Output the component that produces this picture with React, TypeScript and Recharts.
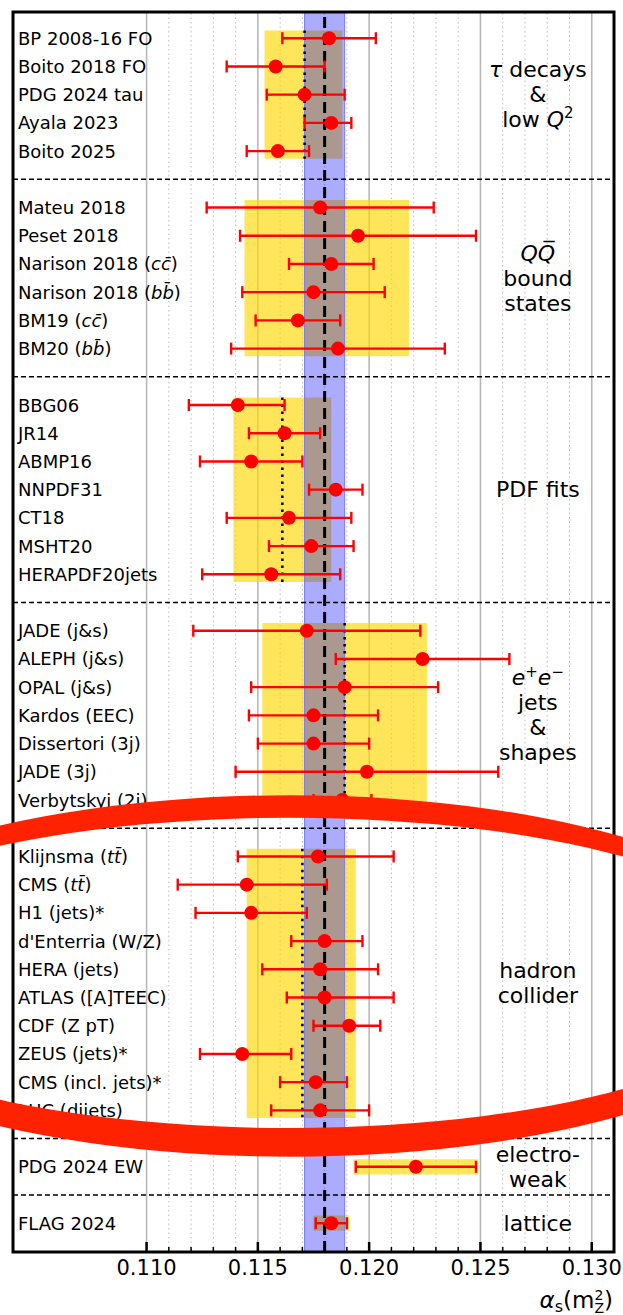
import React from 'react';
import { ScatterChart, Scatter, XAxis, YAxis, ErrorBar, ReferenceLine, ReferenceArea, Label } from 'recharts';

// ---- data ----
const rowLabels = [
  'BP 2008-16 FO', 'Boito 2018 FO', 'PDG 2024 tau', 'Ayala 2023', 'Boito 2025',
  'Mateu 2018', 'Peset 2018', 'Narison 2018 ($cc\u0304$)', 'Narison 2018 ($bb\u0304$)', 'BM19 ($cc\u0304$)', 'BM20 ($bb\u0304$)',
  'BBG06', 'JR14', 'ABMP16', 'NNPDF31', 'CT18', 'MSHT20', 'HERAPDF20jets',
  'JADE (j&s)', 'ALEPH (j&s)', 'OPAL (j&s)', 'Kardos (EEC)', 'Dissertori (3j)', 'JADE (3j)', 'Verbytskyi (2j)',
  'Klijnsma ($tt\u0304$)', 'CMS ($tt\u0304$)', 'H1 (jets)*', "d'Enterria (W/Z)", 'HERA (jets)', 'ATLAS ([A]TEEC)', 'CDF (Z pT)', 'ZEUS (jets)*', 'CMS (incl. jets)*', 'LHC (dijets)',
  'PDG 2024 EW',
  'FLAG 2024',
];
const rowPositions = [
  0, 1, 2, 3, 4,
  6, 7, 8, 9, 10, 11,
  13, 14, 15, 16, 17, 18, 19,
  21, 22, 23, 24, 25, 26, 27,
  29, 30, 31, 32, 33, 34, 35, 36, 37, 38,
  40,
  42,
];
const centralValues = [
  0.1182, 0.1158, 0.1171, 0.1183, 0.1159,
  0.1178, 0.1195, 0.1183, 0.1175, 0.1168, 0.1186,
  0.1141, 0.1162, 0.1147, 0.1185, 0.1164, 0.1174, 0.1156,
  0.1172, 0.1224, 0.1189, 0.1175, 0.1175, 0.1199, 0.1188,
  0.1177, 0.1145, 0.1147, 0.1180, 0.1178, 0.1180, 0.1191, 0.1143, 0.1176, 0.1178,
  0.1221,
  0.1183,
];
const lowerBounds = [
  0.1161, 0.1136, 0.1154, 0.1171, 0.1145,
  0.1127, 0.1142, 0.1164, 0.1143, 0.1149, 0.1138,
  0.1119, 0.1146, 0.1124, 0.1173, 0.1136, 0.1155, 0.1125,
  0.1121, 0.1185, 0.1147, 0.1146, 0.1150, 0.1140, 0.1175,
  0.1141, 0.1114, 0.1122, 0.1165, 0.1152, 0.1163, 0.1175, 0.1124, 0.1160, 0.1156,
  0.1194,
  0.1176,
];
const upperBounds = [
  0.1203, 0.1180, 0.1189, 0.1192, 0.1173,
  0.1229, 0.1248, 0.1202, 0.1207, 0.1187, 0.1234,
  0.1162, 0.1178, 0.1170, 0.1197, 0.1192, 0.1193, 0.1187,
  0.1223, 0.1263, 0.1231, 0.1204, 0.1200, 0.1258, 0.1201,
  0.1211, 0.1181, 0.1172, 0.1197, 0.1204, 0.1211, 0.1205, 0.1165, 0.1190, 0.1200,
  0.1248,
  0.1190,
];

const groupTitles = [
  ['$\u03c4$ decays', '&', 'low $Q$^2'],
  ['$QQ\u0305$', 'bound', 'states'],
  ['PDF fits'],
  ['$e$^+$e$^\u2212', 'jets', '&', 'shapes'],
  ['hadron', 'collider'],
  ['electro-', 'weak'],
  ['lattice'],
];
const groupFirstRow = [0, 6, 13, 21, 29, 40, 42];
const groupLastRow = [4, 11, 19, 27, 38, 40, 42];
const groupBoxLow = [0.1153, 0.1144, 0.1139, 0.1152, 0.1145, 0.1193, 0.1175];
const groupBoxHigh = [0.1188, 0.1218, 0.1183, 0.1226, 0.1194, 0.1249, 0.1191];
const groupAverages = [0.1171, null, 0.1161, 0.1189, 0.1170, null, null];
const separatorPositions = [5, 12, 20, 28, 39, 41];

const worldAverage = 0.118;
const worldAverageLow = 0.1171;
const worldAverageHigh = 0.1189;

const majorTicks = [0.11, 0.115, 0.12, 0.125, 0.13];
const majorTickLabels = ['0.110', '0.115', '0.120', '0.125', '0.130'];
const minorTicks = [
  0.111, 0.112, 0.113, 0.114, 0.116, 0.117, 0.118, 0.119,
  0.121, 0.122, 0.123, 0.124, 0.126, 0.127, 0.128, 0.129,
];

const X_DOMAIN: [number, number] = [0.104, 0.131];
const Y_DOMAIN: [number, number] = [-0.93, 43.02];
const GROUP_LABEL_X = 0.12758;
const HALF_BOX = 0.27;

const FONT = 'DejaVu Sans';

// ---- helpers ----
function rich(s: string, fs: number) {
  const out: React.ReactNode[] = [];
  let italic = false;
  let buf = '';
  let pendingDy = 0;
  let key = 0;
  const flush = () => {
    if (buf) {
      out.push(
        <tspan key={key++} fontStyle={italic ? 'italic' : 'normal'} dy={pendingDy || undefined}>{buf}</tspan>
      );
      pendingDy = 0;
      buf = '';
    }
  };
  for (let i = 0; i < s.length; i++) {
    const c = s[i];
    if (c === '$') { flush(); italic = !italic; continue; }
    if (c === '^' || c === '_') {
      flush();
      const ch = s[i + 1];
      i++;
      const d = c === '^' ? -0.4 * fs : 0.25 * fs;
      out.push(
        <tspan key={key++} fontSize={fs * 0.68} dy={d + pendingDy} fontStyle="normal">{ch}</tspan>
      );
      pendingDy = -d;
      continue;
    }
    buf += c;
  }
  flush();
  return out;
}

const scatterData = centralValues.map((v, i) => ({
  x: v,
  y: rowPositions[i],
  err: [v - lowerBounds[i], upperBounds[i] - v],
}));

const rowLabelData = rowLabels.map((label, i) => ({
  x: X_DOMAIN[0],
  y: rowPositions[i],
  label,
}));

const groupLabelData = groupTitles.map((lines, i) => ({
  x: GROUP_LABEL_X,
  y: (groupFirstRow[i] + groupLastRow[i]) / 2,
  lines,
}));

const XTick = (props: any) => {
  const { x, y, payload } = props;
  const v = payload.value;
  const mi = majorTicks.findIndex((m) => Math.abs(m - v) < 1e-9);
  if (mi >= 0) {
    return (
      <g>
        <line x1={x} x2={x} y1={y} y2={y - 10} stroke="#000" strokeWidth={2.5} />
        <text x={x} y={y + 23} textAnchor="middle" fontSize={21} fontFamily={FONT} fill="#000">
          {majorTickLabels[mi]}
        </text>
      </g>
    );
  }
  return <line x1={x} x2={x} y1={y} y2={y - 5} stroke="#000" strokeWidth={1.5} />;
};

const RowLabelShape = (props: any) => {
  const { cx, cy, payload } = props;
  return (
    <text x={cx + 5} y={cy + 6.5} textAnchor="start" fontSize={18} fontFamily={FONT} fill="#000">
      {rich(payload.label, 18)}
    </text>
  );
};

const GroupLabelShape = (props: any) => {
  const { cx, cy, payload } = props;
  const lines: string[] = payload.lines;
  const lh = 25;
  const y0 = cy - ((lines.length - 1) * lh) / 2;
  return (
    <g>
      {lines.map((ln, i) => (
        <text key={i} x={cx} y={y0 + i * lh + 7.5} textAnchor="middle" fontSize={22} fontFamily={FONT} fill="#000">
          {rich(ln, 22)}
        </text>
      ))}
    </g>
  );
};

const Dot = (props: any) => <circle cx={props.cx} cy={props.cy} r={7} fill="#ff0000" />;

const EllipseShape = (props: any) => {
  const { x, y, width, height } = props;
  const cx = x + 0.46 * width;
  const ocy = y + 0.476 * height;
  const orx = 0.868 * width;
  const ory = 0.582 * height;
  const icy = y + 0.466 * height;
  const irx = 0.838 * width;
  const iry = 0.5 * height;
  const e = (cX: number, cY: number, rx: number, ry: number) =>
    `M${cX - rx},${cY} A${rx},${ry} 0 1 0 ${cX + rx},${cY} A${rx},${ry} 0 1 0 ${cX - rx},${cY} Z`;
  return <path d={e(cx, ocy, orx, ory) + ' ' + e(cx, icy, irx, iry)} fill="#ff2200" fillRule="evenodd" />;
};

const AxisTitle = (props: any) => {
  const vb = props.viewBox || {};
  const xr = vb.x + vb.width - 1;
  const yb = vb.y + 56;
  return (
    <text x={xr} y={yb} textAnchor="end" fontSize={23} fontFamily={FONT} fill="#000">
      <tspan fontStyle="italic">{'\u03b1'}</tspan>
      <tspan fontSize={16} dy={4}>s</tspan>
      <tspan dy={-4}>(m</tspan>
      <tspan fontSize={14} dy={-8}>2</tspan>
      <tspan fontSize={14} dx={-9} dy={13}>Z</tspan>
      <tspan dy={-5}>)</tspan>
    </text>
  );
};

export default function App() {
  const allTicks = [...majorTicks, ...minorTicks].sort((a, b) => a - b);
  return (
    <div style={{ position: 'absolute', left: 0, top: 0, width: 623, height: 1315, background: '#fff' }}>
      <ScatterChart width={623} height={1315} margin={{ top: 12, right: 9, bottom: 0, left: 13 }}>
        <XAxis
          type="number"
          dataKey="x"
          domain={X_DOMAIN}
          allowDataOverflow
          ticks={allTicks}
          interval={0}
          tick={<XTick />}
          tickSize={0}
          tickMargin={0}
          tickLine={false}
          axisLine={false}
          height={63}
        >
          <Label content={<AxisTitle />} />
        </XAxis>
        <YAxis type="number" dataKey="y" domain={Y_DOMAIN} allowDataOverflow reversed hide />

        {/* grid */}
        {minorTicks.map((v) => (
          <ReferenceLine key={'mg' + v} x={v} stroke="#bdbdbd" strokeWidth={1} strokeDasharray="1.5 3" zIndex={1} />
        ))}
        {majorTicks.map((v) => (
          <ReferenceLine key={'Mg' + v} x={v} stroke="#b8b8b8" strokeWidth={1.6} zIndex={1} />
        ))}

        {/* group boxes */}
        {groupBoxLow.map((lo, i) => (
          <ReferenceArea
            key={'box' + i}
            x1={lo}
            x2={groupBoxHigh[i]}
            y1={groupFirstRow[i] - HALF_BOX}
            y2={groupLastRow[i] + HALF_BOX}
            fill="#ffd700"
            fillOpacity={0.65}
            stroke="none"
            zIndex={2}
          />
        ))}

        {/* world average band */}
        <ReferenceArea
          x1={worldAverageLow}
          x2={worldAverageHigh}
          y1={Y_DOMAIN[0]}
          y2={Y_DOMAIN[1]}
          fill="#0000ff"
          fillOpacity={0.33}
          stroke="#7777ff"
          strokeWidth={1}
          zIndex={3}
        />

        {/* separators */}
        {separatorPositions.map((p) => (
          <ReferenceLine key={'sep' + p} y={p} stroke="#000" strokeWidth={1.5} strokeDasharray="5 3" zIndex={4} />
        ))}

        {/* group averages */}
        {groupAverages.map((a, i) =>
          a === null ? null : (
            <ReferenceLine
              key={'avg' + i}
              segment={[
                { x: a, y: groupFirstRow[i] - HALF_BOX },
                { x: a, y: groupLastRow[i] + HALF_BOX },
              ]}
              stroke="#000"
              strokeWidth={2.5}
              strokeDasharray="2.5 4.5"
              zIndex={5}
            />
          )
        )}

        <ReferenceLine x={worldAverage} stroke="#000" strokeWidth={3} strokeDasharray="11 6" zIndex={5} />

        <Scatter data={scatterData} shape={<Dot />} isAnimationActive={false} zIndex={600}>
          <ErrorBar dataKey="err" direction="x" width={6} stroke="#ff0000" strokeWidth={2.4} isAnimationActive={false} />
        </Scatter>

        <Scatter data={rowLabelData} shape={<RowLabelShape />} isAnimationActive={false} zIndex={650} />
        <Scatter data={groupLabelData} shape={<GroupLabelShape />} isAnimationActive={false} zIndex={650} />

        {/* frame */}
        <ReferenceArea
          x1={X_DOMAIN[0]}
          x2={X_DOMAIN[1]}
          y1={Y_DOMAIN[0]}
          y2={Y_DOMAIN[1]}
          fill="none"
          stroke="#000"
          strokeWidth={3}
          zIndex={800}
        />

        {/* highlight ellipse around hadron collider group */}
        <ReferenceArea
          x1={X_DOMAIN[0]}
          x2={X_DOMAIN[1]}
          y1={28}
          y2={39}
          shape={<EllipseShape />}
          zIndex={3000}
        />
      </ScatterChart>
    </div>
  );
}
